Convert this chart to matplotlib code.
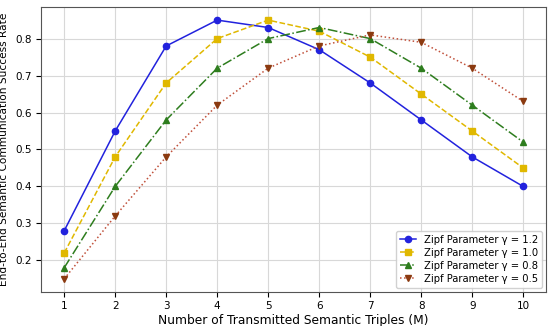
import matplotlib
matplotlib.use("Agg")
import matplotlib.pyplot as plt

m_values = [1, 2, 3, 4, 5, 6, 7, 8, 9, 10]
gamma_12 = [0.28, 0.55, 0.78, 0.85, 0.83, 0.77, 0.68, 0.58, 0.48, 0.40]
gamma_10 = [0.22, 0.48, 0.68, 0.80, 0.85, 0.82, 0.75, 0.65, 0.55, 0.45]
gamma_08 = [0.18, 0.40, 0.58, 0.72, 0.80, 0.83, 0.80, 0.72, 0.62, 0.52]
gamma_05 = [0.15, 0.32, 0.48, 0.62, 0.72, 0.78, 0.81, 0.79, 0.72, 0.63]
labels = ["Zipf Parameter γ = 1.2", "Zipf Parameter γ = 1.0",
          "Zipf Parameter γ = 0.8", "Zipf Parameter γ = 0.5"]

fig, ax = plt.subplots(figsize=(5.5, 3.26), dpi=100)

ax.plot(m_values, gamma_12, color="#2222dd", marker="o", ms=4.5, lw=1.1, ls="-", label=labels[0])
ax.plot(m_values, gamma_10, color="#e0b800", marker="s", ms=4.5, lw=1.1, ls="--", label=labels[1])
ax.plot(m_values, gamma_08, color="#2e7d1e", marker="^", ms=4.5, lw=1.1, ls="-.", label=labels[2])
ax.plot(m_values, gamma_05, color="#c0503a", marker="v", ms=4.5, lw=1.1, ls=":",
        mfc="#8b3a10", mec="#8b3a10", label=labels[3])

ax.set_xlim(0.55, 10.45)
ax.set_ylim(0.115, 0.885)
ax.set_xticks(m_values)
ax.set_yticks([0.2, 0.3, 0.4, 0.5, 0.6, 0.7, 0.8])
ax.tick_params(labelsize=7.5)
ax.grid(True, color="#d8d8d8", lw=0.8)
for s in ax.spines.values():
    s.set_color("#555555")

ax.set_xlabel("Number of Transmitted Semantic Triples (M)", fontsize=8.8, labelpad=2)
ax.set_ylabel("End-to-End Semantic Communication Success Rate", fontsize=7.6, labelpad=4)
ax.legend(loc="lower right", fontsize=7.2, framealpha=0.9, borderaxespad=0.4,
          handlelength=1.6, labelspacing=0.3)

fig.subplots_adjust(left=0.075, right=0.993, top=0.978, bottom=0.105)
fig.savefig("out.png", dpi=100)
